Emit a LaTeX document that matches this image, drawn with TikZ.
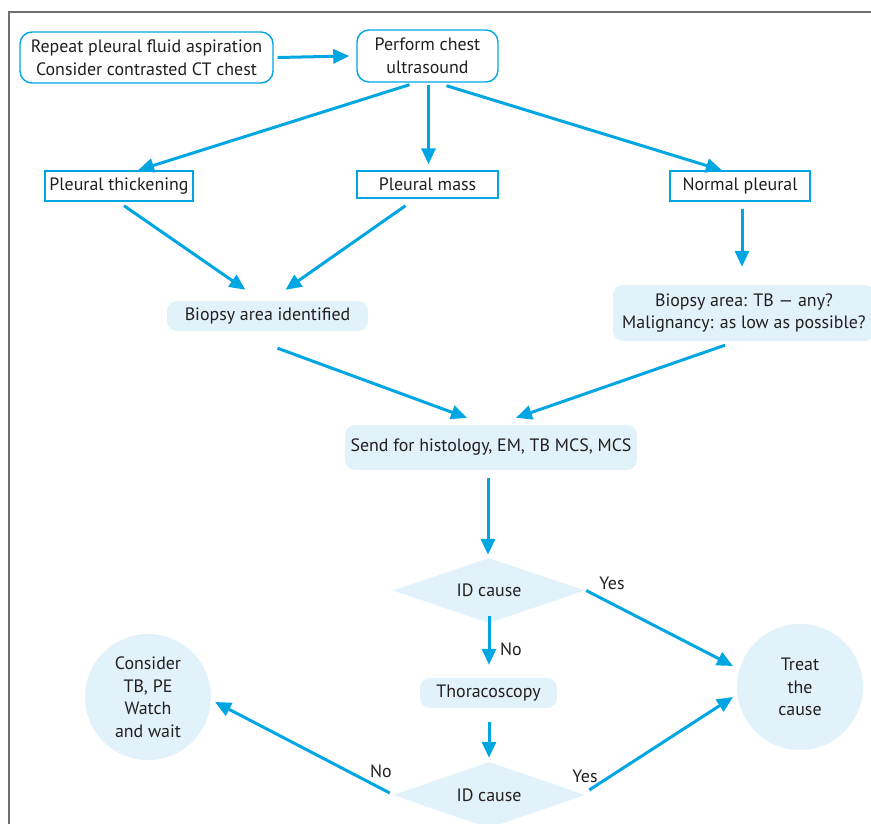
\documentclass[tikz,border=0pt]{standalone}
\usepackage{fontspec}
\setmainfont{PT Sans}
\usetikzlibrary{arrows.meta, shapes.geometric}
\definecolor{flowblue}{HTML}{00A6E2}
\definecolor{paleblue}{HTML}{E1F2FB}
\definecolor{inkgray}{HTML}{231F20}
\definecolor{framegray}{HTML}{6E6E6E}
\tikzset{
  x=1pt, y=-1pt, % one unit is one pixel of the page, y runs downwards
  every node/.style={text=inkgray, font=\fontsize{17.9}{22.5}\selectfont, align=center, inner sep=0pt},
  outlined/.style={draw=flowblue, line width=1.4pt, fill=white}, % boxes with a blue border
  softbox/.style={fill=paleblue, rounded corners=10pt}, % filled boxes without border
  question/.style={diamond, aspect=3, fill=paleblue, minimum width=192pt, minimum height=65pt},
  terminal/.style={circle, fill=paleblue, minimum size=126pt},
  flow/.style={draw=flowblue, line width=3pt, -{Triangle[length=16pt, width=14pt]}},
}
\begin{document}
\begin{tikzpicture}
  \useasboundingbox (0,0) rectangle (871,824);
  \draw[framegray, line width=1.2pt] (871,12) -- (9,12) -- (9,824);

  % first row
  \node[outlined, rounded corners=12pt, minimum width=253pt, minimum height=51pt] (repeat) at (146.5,57.5)
    {Repeat pleural fluid aspiration\\Consider contrasted CT chest};
  \node[outlined, rounded corners=12pt, minimum width=141pt, minimum height=52pt] (chestus) at (427.5,56)
    {Perform chest\\ultrasound};

  % ultrasound findings
  \node[outlined, minimum width=148pt, minimum height=30pt] (thick) at (119,186) {Pleural thickening};
  \node[outlined, minimum width=141pt, minimum height=27pt] (mass)  at (427.5,184.5) {Pleural mass};
  \node[outlined, minimum width=140pt, minimum height=30pt] (normal) at (740,186) {Normal pleural};

  % biopsy
  \node[softbox, minimum width=201pt, minimum height=30pt] (area) at (267.5,316) {Biopsy area identified};
  \node[softbox, minimum width=262pt, minimum height=56pt] (blind) at (744,313)
    {Biopsy area: TB --- any?\\Malignancy: as low as possible?};
  \node[softbox, minimum width=292pt, minimum height=45pt] (send) at (491,447.5)
    {Send for histology, EM, TB MCS, MCS};

  % decisions
  \node[question] (idone) at (489,590.5) {ID cause};
  \node[softbox, minimum width=137pt, minimum height=30pt] (thoraco) at (488.5,693) {Thoracoscopy};
  \node[question, minimum height=66pt] (idtwo) at (489,795) {ID cause};
  \node[terminal] (treat) at (800,687) {Treat\\the\\cause};
  \node[terminal] (watch) at (148,697) {Consider\\TB, PE\\Watch\\and wait};

  % labels
  \node (yesone) at (612,583) {Yes};
  \node (noone)  at (511,649) {No};
  \node (yestwo) at (585,776) {Yes};
  \node (notwo)  at (381,771) {No};

  \draw[flow] ([xshift=4]repeat.east) -- ([xshift=-7]chestus.west);
  \draw[flow] ([shift={(-18,2)}]chestus.south) -- ([xshift=19]thick.north);
  \draw[flow] ([shift={(1,2)}]chestus.south) -- ([shift={(1,-6)}]mass.north);
  \draw[flow] ([shift={(19,3)}]chestus.south) -- ([xshift=-18]normal.north);
  \draw[flow] ([shift={(5,4)}]thick.south) -- ([shift={(-22,-11)}]area.north);
  \draw[flow] ([shift={(-22,7)}]mass.south) -- ([shift={(18,-11)}]area.north);
  \draw[flow] ([shift={(2,7)}]normal.south) -- ([shift={(-2,-18)}]blind.north);
  \draw[flow] ([shift={(10,17)}]area.south) -- ([shift={(-24,-7)}]send.north);
  \draw[flow] ([shift={(-19,4)}]blind.south) -- ([shift={(25,-7)}]send.north);
  \draw[flow] ([shift={(-3,8)}]send.south) -- ([shift={(-1,-3)}]idone.north);
  \draw[flow] ([xshift=1]idone.east) -- ([shift={(-67,-21)}]treat.center);
  \draw[flow] ([yshift=7]idone.south) -- ([shift={(0.5,-13)}]thoraco.north);
  \draw[flow] ([shift={(0.5,14)}]thoraco.south) -- ([shift={(0,-4)}]idtwo.north);
  \draw[flow] ([shift={(4,-5)}]idtwo.east) -- ([shift={(-67,10)}]treat.center);
  \draw[flow] ([shift={(-3,-2)}]idtwo.west) -- ([shift={(67,5)}]watch.center);
\end{tikzpicture}
\end{document}
